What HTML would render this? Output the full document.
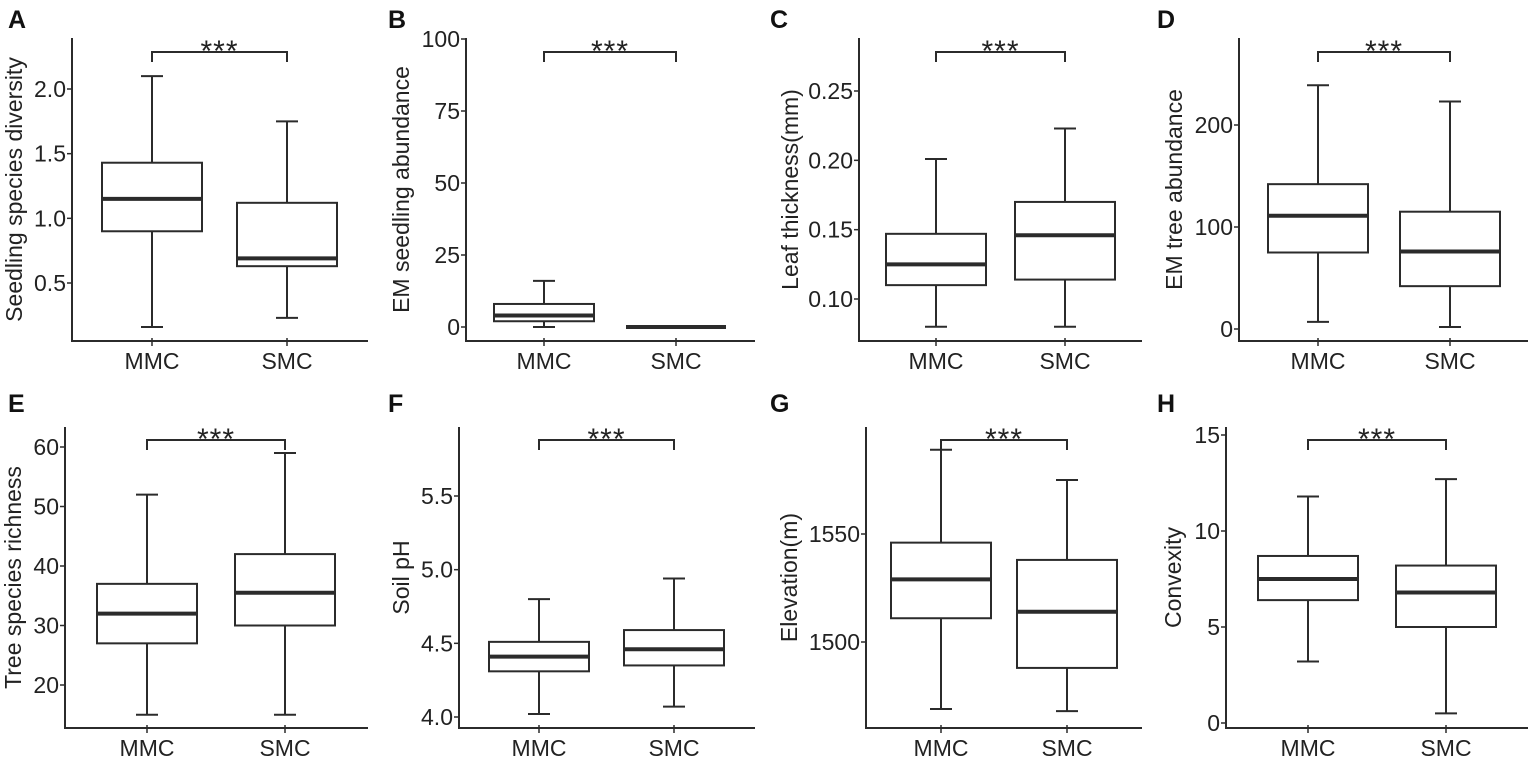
<!DOCTYPE html>
<html><head><meta charset="utf-8"><style>
html,body{margin:0;padding:0;background:#fff;}
svg{display:block;font-family:"Liberation Sans",Arial,sans-serif;}
</style></head><body>
<svg id="fig" width="1535" height="761" viewBox="0 0 1535 761"></svg>
<script>
const categories = ["MMC","SMC"];
const panelLetters = ["A","B","C","D","E","F","G","H"];
const yTitles = ["Seedling species diversity","EM seedling abundance","Leaf thickness(mm)","EM tree abundance","Tree species richness","Soil pH","Elevation(m)","Convexity"];
// [low, q1, median, q3, high] per category
const statsA = [[0.16,0.90,1.15,1.43,2.10],[0.23,0.63,0.69,1.12,1.75]];
const statsB = [[0,2,4,8,16],[0,0,0,0,0]];
const statsC = [[0.080,0.110,0.125,0.147,0.201],[0.080,0.114,0.146,0.170,0.223]];
const statsD = [[7,75,111,142,239],[2,42,76,115,223]];
const statsE = [[15,27,32,37,52],[15,30,35.5,42,59]];
const statsF = [[4.02,4.31,4.41,4.51,4.80],[4.07,4.35,4.46,4.59,4.94]];
const statsG = [[1469,1511,1529,1546,1589],[1468,1488,1514,1538,1575]];
const statsH = [[3.2,6.4,7.5,8.7,11.8],[0.5,5.0,6.8,8.2,12.7]];
const ticksA = ["0.5","1.0","1.5","2.0"];
const ticksB = ["0","25","50","75","100"];
const ticksC = ["0.10","0.15","0.20","0.25"];
const ticksD = ["0","100","200"];
const ticksE = ["20","30","40","50","60"];
const ticksF = ["4.0","4.5","5.0","5.5"];
const ticksG = ["1500","1550"];
const ticksH = ["0","5","10","15"];
const sigLabel = "***";

// layout (pixel geometry, not data)
const layout = [
 {ax:72, right:368, top:38, base:341, letterX:8, letterY:28, titleX:16, c:[152,287], r:[0.5,283,2.0,89], brY:52},
 {ax:466,right:755, top:38, base:341, letterX:388,letterY:28, titleX:403, c:[544,676], r:[0,327,100,39], brY:52},
 {ax:859,right:1142,top:38, base:341, letterX:770,letterY:28, titleX:792, c:[936,1065], r:[0.10,299,0.25,91], brY:52},
 {ax:1239,right:1528,top:38,base:341, letterX:1157,letterY:28, titleX:1176, c:[1318,1450], r:[0,329,200,125], brY:52},
 {ax:65, right:368, top:427,base:728, letterX:8, letterY:412, titleX:15, c:[147,285], r:[20,685,60,447], brY:440},
 {ax:459,right:755, top:427,base:728, letterX:388,letterY:412, titleX:403, c:[539,674], r:[4.0,717,5.5,496], brY:440},
 {ax:866,right:1142,top:427,base:728, letterX:770,letterY:412, titleX:791, c:[941,1067], r:[1500,642,1550,534], brY:440},
 {ax:1226,right:1528,top:427,base:728,letterX:1157,letterY:412, titleX:1175, c:[1308,1446], r:[0,723,15,435], brY:440}
];
const allStats=[statsA,statsB,statsC,statsD,statsE,statsF,statsG,statsH];
const allTicks=[ticksA,ticksB,ticksC,ticksD,ticksE,ticksF,ticksG,ticksH];
const NS="http://www.w3.org/2000/svg";
const svg=document.getElementById('fig');
const C="#2b2b2b";
function mk(tag,attrs,parent){const e=document.createElementNS(NS,tag);for(const k in attrs)e.setAttribute(k,attrs[k]);parent.appendChild(e);return e;}
function line(x1,y1,x2,y2,w,p){return mk('line',{x1,y1,x2,y2,stroke:C,'stroke-width':w},p);}

allStats.forEach((stats,i)=>{
  const L=layout[i];
  const g=mk('g',{},svg);
  
  
  const y=v=>L.r[1]+(v-L.r[0])*(L.r[3]-L.r[1])/(L.r[2]-L.r[0]);
  const midY=(L.top+L.base)/2;
  const lt=mk('text',{x:L.letterX,y:L.letterY,'font-size':25,'font-weight':'bold',fill:'#111'},g);
  lt.textContent=panelLetters[i];
  
  
  const ya=line(L.ax,L.top,L.ax,L.base,2,g);
  
  
  const xa=line(L.ax-1,L.base,L.right,L.base,2,g);
  
  
  allTicks[i].forEach(t=>{
    const ty=y(parseFloat(t));
    line(L.ax-5,ty,L.ax,ty,1.5,g);
    const tx=mk('text',{x:L.ax-6,y:ty+8,'font-size':23,'text-anchor':'end',fill:'#222'},g);
    tx.textContent=t;
    
    
  });
  const yt=mk('text',{x:L.titleX,y:midY,'font-size':23,'text-anchor':'middle',fill:'#222',transform:`rotate(-90 ${L.titleX} ${midY})`,'dominant-baseline':'middle'},g);
  yt.textContent=yTitles[i];
  
  
  categories.forEach((cat,j)=>{
    const cx=L.c[j], s=stats[j];
    line(cx,L.base-3,cx,L.base+5,1.5,g);
    const cl=mk('text',{x:cx,y:L.base+28,'font-size':23,'text-anchor':'middle',fill:'#222'},g);
    cl.textContent=cat;
    
    
    const bg=mk('g',{},g);
    
    
    line(cx,y(s[0]),cx,y(s[1]),2,bg);
    line(cx,y(s[3]),cx,y(s[4]),2,bg);
    line(cx-11,y(s[0]),cx+11,y(s[0]),2,bg);
    line(cx-11,y(s[4]),cx+11,y(s[4]),2,bg);
    const h=Math.max(y(s[1])-y(s[3]),0);
    mk('rect',{x:cx-50,y:y(s[3]),width:100,height:h,fill:'#fff',stroke:C,'stroke-width':2},bg);
    line(cx-50,y(s[2]),cx+50,y(s[2]),4,bg);
  });
  const br=mk('path',{d:`M${L.c[0]} ${L.brY+10}V${L.brY}H${L.c[1]}V${L.brY+10}`,fill:'none',stroke:C,'stroke-width':2},g);
  
  
  const st=mk('text',{x:(L.c[0]+L.c[1])/2,y:L.brY+9,'font-size':30,'text-anchor':'middle',fill:'#222','letter-spacing':'1'},g);
  st.textContent=sigLabel;
  
  
});
</script>
</body></html>
